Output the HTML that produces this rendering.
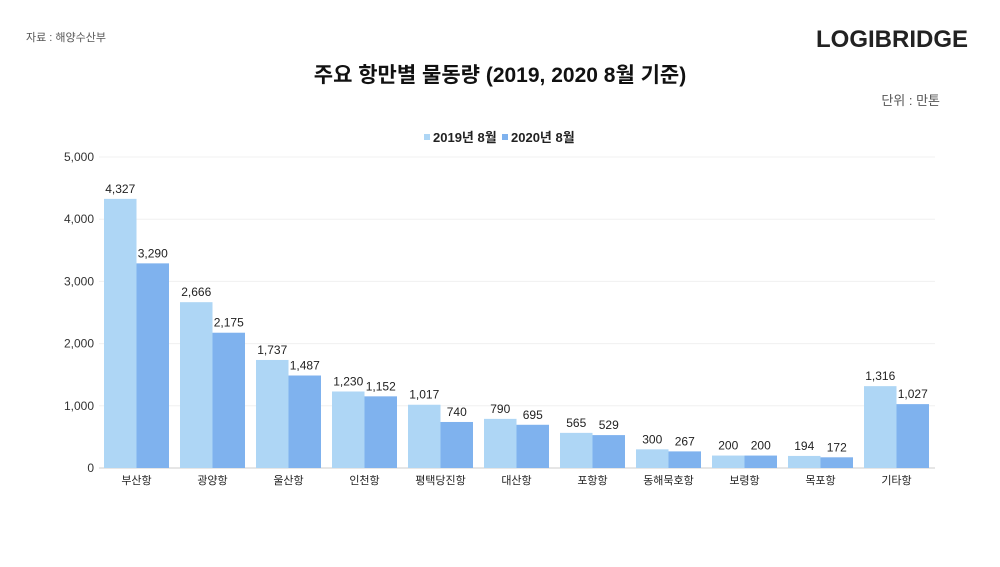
<!DOCTYPE html>
<html><head><meta charset="utf-8"><style>
body{margin:0;background:#fff;width:1000px;height:562px;overflow:hidden}
svg text{font-family:"Liberation Sans","Noto Sans CJK KR",sans-serif}
</style></head><body>
<svg id="s" width="1000" height="562" xmlns="http://www.w3.org/2000/svg">
<text x="26" y="41" font-size="11" fill="#555">자료 : 해양수산부</text>
<text x="968" y="47" font-size="24" font-weight="bold" fill="#222" text-anchor="end">LOGIBRIDGE</text>
<text x="500" y="82" font-size="21" font-weight="bold" fill="#111" text-anchor="middle">주요 항만별 물동량 (2019, 2020 8월 기준)</text>
<text x="940" y="105" font-size="13" fill="#555" text-anchor="end">단위 : 만톤</text>
<rect x="424" y="134" width="6" height="6" fill="#aed6f5"/>
<text x="433" y="142" font-size="13" font-weight="bold" fill="#222">2019년 8월</text>
<rect x="502" y="134" width="6" height="6" fill="#7fb2ee"/>
<text x="511" y="142" font-size="13" font-weight="bold" fill="#222">2020년 8월</text>
<g id="g"></g>
</svg>
<script>
var g=document.getElementById('g'),h='';
var ticks=[0,1000,2000,3000,4000,5000];
ticks.forEach(function(t){var y=468-t*0.0622;
h+='<line x1="99" x2="935" y1="'+y+'" y2="'+y+'" stroke="'+(t?'#f0f0f0':'#ccc')+'"/>';
h+='<text x="94" y="'+(y+4)+'" font-size="12" fill="#333" text-anchor="end">'+t.toLocaleString('en-US')+'</text>';});
var n=['부산항','광양항','울산항','인천항','평택당진항','대산항','포항항','동해묵호항','보령항','목포항','기타항'];
var a=[4327,2666,1737,1230,1017,790,565,300,200,194,1316];
var b=[3290,2175,1487,1152,740,695,529,267,200,172,1027];
for(var i=0;i<11;i++){var L=104+76*i;
[[a[i],L,'#aed6f5'],[b[i],L+32.5,'#7fb2ee']].forEach(function(d){var hh=d[0]*0.0622;
h+='<rect x="'+d[1]+'" y="'+(468-hh)+'" width="32.5" height="'+hh+'" fill="'+d[2]+'"/>';
h+='<text x="'+(d[1]+16.25)+'" y="'+(468-hh-6)+'" font-size="12" fill="#222" text-anchor="middle">'+d[0].toLocaleString('en-US')+'</text>';});
h+='<text x="'+(L+32.5)+'" y="484" font-size="11" fill="#222" text-anchor="middle">'+n[i]+'</text>';}
g.innerHTML=h;
</script>
</body></html>
